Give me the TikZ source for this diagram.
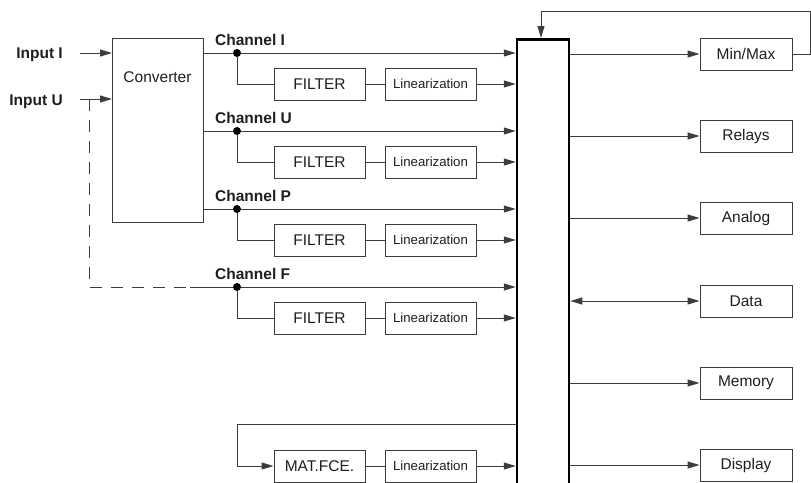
\documentclass[tikz,border=0pt]{standalone}
\usepackage{fontspec}
\setmainfont{Liberation Sans}
\usepackage{xcolor}
\usetikzlibrary{arrows.meta, positioning, calc}
\definecolor{wiregray}{RGB}{60,60,60}
\definecolor{textgray}{RGB}{30,30,30}
\newcommand{\boxfont}{\fontsize{15.5}{18}\selectfont}
\newcommand{\smallboxfont}{\fontsize{13.2}{15}\selectfont}
\newcommand{\labfont}{\fontsize{15.5}{18}\selectfont\bfseries}

\begin{document}
\begin{tikzpicture}[x=1pt, y=-1pt,
  wire/.style={draw=wiregray, line width=1pt},
  arr/.style={wire, -{Triangle[length=12pt,width=7pt]}},
  box/.style={draw=wiregray, line width=1pt, minimum width=91pt, minimum height=32pt, inner sep=0pt, font=\boxfont, text=textgray},
  linbox/.style={box, font=\smallboxfont},
  lab/.style={font=\labfont, text=textgray, inner sep=0pt},
  junction/.style={circle, fill=black, inner sep=0pt, minimum size=8pt}]
\useasboundingbox (0,0) rectangle (811,482);
% Inputs and converter
\node[lab, anchor=base east] (inI) at (63,58) {Input I};
\node[lab, anchor=base east] (inU) at (63,105) {Input U};
\node[box, minimum width=91pt, minimum height=184pt, anchor=north west] (conv) at (112,38) {};
\node[font=\boxfont, text=textgray, anchor=base] (convlab) at (157.5,82) {Converter};
\coordinate (iI) at (80,53);
\coordinate (iU) at (80,99);
\draw[arr] (iI) -- (iI -| conv.west);
\draw[arr] (iU) -- (iU -| conv.west);
% Central bus
\node[draw=black, line width=2.5pt, minimum width=52pt, minimum height=470pt, anchor=north, inner sep=0pt] (bus) at (543,38) {};
% Channels
\foreach \ch/\y in {I/53, U/131, P/209, F/287} {
  \node[junction] (j\ch) at (237,\y) {};
  \node[lab, anchor=base west] (lab\ch) at (215,\y-8) {Channel \ch};
  \node[box] (filt\ch) at (319.5,\y+31) {FILTER};
  \node[linbox, right=19pt of filt\ch] (lin\ch) {Linearization};
  \draw[arr] (j\ch) -- (j\ch -| bus.west);
  \draw[wire] (j\ch) |- (filt\ch.west);
  \draw[wire] (filt\ch) -- (lin\ch);
  \draw[arr] (lin\ch) -- (lin\ch -| bus.west);
}
\foreach \ch in {I, U, P}
  \draw[wire] (conv.east |- j\ch) -- (j\ch);
% Input U to channel F
\coordinate (tapU) at (89,99);
\coordinate (cornF) at (89,287);
\coordinate (dashend) at (190,287);
\draw[wire, dash pattern=on 12pt off 9pt] (tapU) -- (cornF) -- (dashend);
\draw[wire] (dashend) -- (jF);
% Math function
\node[box] (mat) at (319.5,466) {MAT.FCE.};
\node[linbox, right=19pt of mat] (linM) {Linearization};
\coordinate (matret) at (237,424);
\draw[arr] (bus.west |- matret) -- (matret) |- (mat.west);
\draw[wire] (mat) -- (linM);
\draw[arr] (linM) -- (linM -| bus.west);
% Outputs
\node[box, minimum width=92pt] (minmax) at (746,54) {Min/Max};
\node[box, minimum width=92pt] (relays) at (746,136) {Relays};
\node[box, minimum width=92pt] (analog) at (746,218) {Analog};
\node[box, minimum width=92pt] (data) at (746,301) {Data};
\node[box, minimum width=92pt] (memory) at (746,383) {Memory};
\node[box, minimum width=92pt] (display) at (746,465) {Display};
\foreach \nm in {minmax, relays, analog, memory, display}
  \draw[arr] (bus.east |- \nm) -- (\nm.west);
\draw[wire, {Triangle[length=12pt,width=7pt]}-{Triangle[length=12pt,width=7pt]}] (bus.east |- data) -- (data.west);
% Feedback from Min/Max
\coordinate (fbtop) at (810,11);
\draw[arr] (minmax.east) -| (fbtop) -| ([xshift=-2pt]bus.north);
\end{tikzpicture}
\end{document}
